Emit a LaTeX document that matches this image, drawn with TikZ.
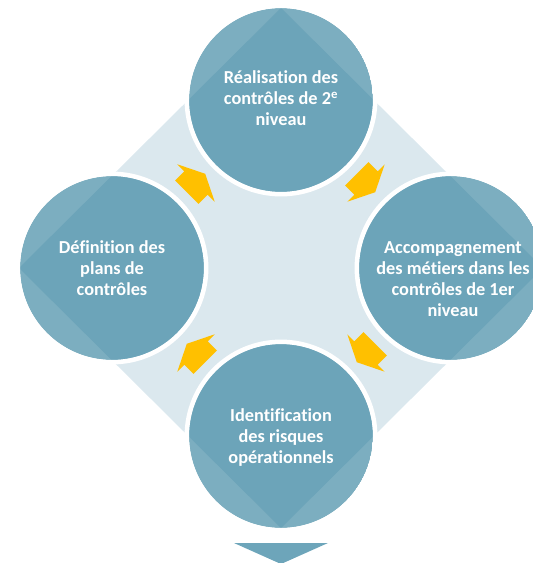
\documentclass[tikz,border=0pt]{standalone}
\usepackage{fontspec}
\setmainfont{Carlito}[Ligatures=NoCommon]
\definecolor{bgdia}{HTML}{DBE8EE}
\definecolor{circdark}{HTML}{6CA4B9}
\definecolor{circlight}{HTML}{7CAEC0}
\definecolor{arrowc}{HTML}{FFC000}
\definecolor{tric}{HTML}{6DA5BA}
\tikzset{
  lbl/.style={text=white, font=\fontsize{18.3}{21}\selectfont\bfseries, align=center, inner sep=0pt},
  ring/.style={draw=white, line width=4.5pt},
  blockarrow/.style={fill=arrowc}
}
\newcommand{\diapath}{(19,268) -- (281,8) -- (543,268) -- (281,528) -- cycle}
\newcommand{\mycirc}[1]{%
  \begin{scope}
    \clip (#1) circle (92);
    \fill[circlight] (#1) circle (92);
    \fill[circdark] \diapath;
  \end{scope}
  \draw[ring] (#1) circle (94.2);
}
\newcommand{\myarrow}[2]{%
  \fill[blockarrow, shift={(#1)}, rotate=#2]
    (-13,-16.5) -- (0,-16.5) -- (0,-26.5) -- (13,0) -- (0,26.5) -- (0,16.5) -- (-13,16.5) -- cycle;
}
\begin{document}
\begin{tikzpicture}[x=1pt,y=-1pt]
\useasboundingbox (0,0) rectangle (533,563);
\clip (0,0) rectangle (533,563);
\fill[bgdia] \diapath;
\mycirc{281,100}
\mycirc{112,268}
\mycirc{451,268}
\mycirc{281,436}
\myarrow{196,183}{45}
\myarrow{366,183}{-45}
\myarrow{366,353}{-135}
\myarrow{196,353}{135}
\fill[tric] (234,543) -- (328,543) -- (281,564) -- cycle;
\node[lbl] (top) at (281,98) {Réalisation des\\contrôles de 2\textsuperscript{e}\\niveau};
\node[lbl] (left) at (112,268) {Définition des\\plans de\\contrôles};
\node[lbl] (right) at (453,279) {Accompagnement\\des métiers dans les\\contrôles de 1er\\niveau};
\node[lbl] (bottom) at (281,438) {Identification\\des risques\\opérationnels};
\end{tikzpicture}
\end{document}
